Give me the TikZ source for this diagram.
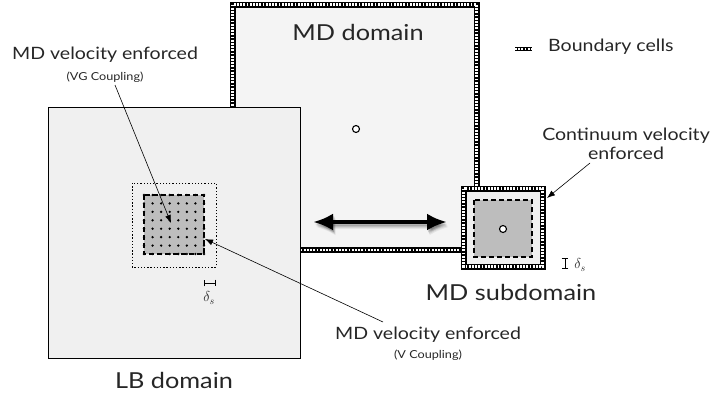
\documentclass[tikz,border=0pt]{standalone}
\usepackage{fontspec}
\setmainfont{Lato}[FakeStretch=1.15]
\usetikzlibrary{arrows.meta}
\usetikzlibrary{positioning}

\definecolor{mdfill}{HTML}{F4F4F4}
\definecolor{lbfill}{HTML}{F0F0F0}
\definecolor{subfill}{HTML}{BDBDBD}

\tikzset{
    boundary/.style={draw=black, line width=6pt,
        postaction={draw=white, line width=2.2pt, dash pattern=on 1.8pt off 1.4pt}},
    label/.style={inner sep=0pt, text=black!85},
    pointer/.style={-{Latex[length=8pt,width=6pt]}, line width=0.6pt},
    particle/.style={draw, fill=white, line width=1.1pt},
    twohead/.style={line width=4pt, {Latex[length=20pt,width=17pt]}-{Latex[length=20pt,width=17pt]}}
}

\begin{document}
\begin{tikzpicture}[x=1pt, y=-1pt]
    \useasboundingbox (0,0) rectangle (714,394);

    \draw[boundary, fill=mdfill] (232.5,4.5) rectangle (476.5,250);
    \draw[particle] (356,129) circle (3.5);
    \draw (358,32) node[label, font=\fontsize{22}{26}\selectfont] (mdname) {MD domain};

    \draw[fill=lbfill, line width=0.8pt] (48,107) rectangle (300,358);
    \draw (174,380) node[label, font=\fontsize{22}{26}\selectfont] (lbname) {LB domain};

    \draw[line width=1pt, dash pattern=on 1.3pt off 1.9pt] (132,183) rectangle (216,267);
    \fill[subfill] (144,195) rectangle (204,254);
    \foreach \i in {0,...,7}{
        \foreach \j in {0,...,7}{
            \fill (144+\i*60/7, 195+\j*59/7) circle (1.3);
        }
    }
    \draw[line width=1.1pt, dash pattern=on 5pt off 3pt] (144,195) rectangle (204,254);
    \coordinate (vgtip) at (171,223);
    \coordinate (vtip) at (205,239);
    \draw[|-|, line width=0.9pt] (204,283) -- (216,283);
    \draw (209,298) node[label, font=\fontsize{14}{16}\selectfont] (lbdelta) {$\delta_s$};

    \foreach \k/\o in {5/0.06,4/0.08,3/0.1,2/0.12}{
        \draw[twohead, draw=black, opacity=\o] (313+\k/2,222+\k) -- (447+\k/2,222+\k);
    }
    \draw (313,222) coordinate (left) (447,222) coordinate (right);
    \draw[twohead] (left) -- (right);

    \draw[boundary, fill=lbfill] (463.5,188.5) rectangle (542.5,266.5);
    \draw[fill=subfill, line width=1.1pt, dash pattern=on 5pt off 3pt] (474,200) rectangle (532,257);
    \draw[particle] (503,229) circle (3.5);
    \draw (511,292) node[label, font=\fontsize{22}{26}\selectfont] (subname) {MD subdomain};
    \draw[|-|, line width=0.9pt] (565,258) -- (565,269);
    \draw (580,265) node[label, font=\fontsize{14}{16}\selectfont] (subdelta) {$\delta_s$};
    \coordinate (cvtip) at (547,198);

    \draw[boundary, line width=4.5pt] (515,49) -- (532,49);
    \draw (548,47) node[label, anchor=west, font=\fontsize{17}{20}\selectfont] (legend) {Boundary cells};

    \draw (626,144) node[label, align=center, font=\fontsize{17}{19}\selectfont] (cvtext) {Continuum velocity\\enforced};
    \coordinate (cvtail) at (590,163);
    \draw[pointer] (cvtail) -- (cvtip);

    \draw (105,55) node[label, font=\fontsize{17}{20}\selectfont] (vgtext) {MD velocity enforced};
    \draw (105,77) node[label, font=\fontsize{11}{13}\selectfont] (vgsub) {(VG Coupling)};
    \coordinate (vgtail) at (115,85);
    \draw[pointer] (vgtail) -- (vgtip);

    \draw (428,335) node[label, font=\fontsize{17}{20}\selectfont] (vtext) {MD velocity enforced};
    \draw (428,355) node[label, font=\fontsize{11}{13}\selectfont] (vsub) {(V Coupling)};
    \coordinate (vtail) at (383,322);
    \draw[pointer] (vtail) -- (vtip);
\end{tikzpicture}
\end{document}
